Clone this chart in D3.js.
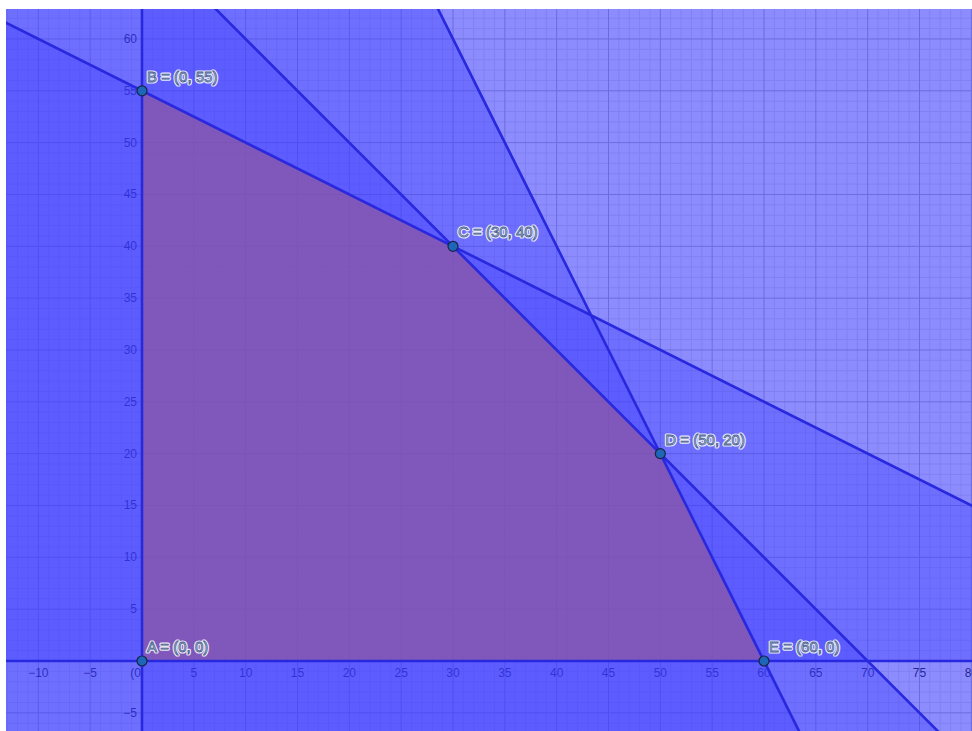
<!DOCTYPE html>
<html>
<head>
<meta charset="utf-8">
<script src="https://cdn.jsdelivr.net/npm/d3@7"></script>
<style>
  body { margin: 0; background: #fff; }
  svg { display: block; }
</style>
</head>
<body>
<svg class="plot"></svg>
<script>
//DATA
const coefX = [1, 1, 2, 1, 0];
const coefY = [2, 1, 1, 0, 1];
const limits = [110, 70, 120, 0, 0];
const senses = ['le', 'le', 'le', 'ge', 'ge'];

const pointNames = ['A', 'B', 'C', 'D', 'E'];
const pointX = [0, 0, 30, 50, 60];
const pointY = [0, 55, 40, 20, 0];

const xTicks = [-10, -5, 5, 10, 15, 20, 25, 30, 35, 40, 45, 50, 55, 60, 65, 70, 75, 80];
const yTicks = [-5, 5, 10, 15, 20, 25, 30, 35, 40, 45, 50, 55, 60];

//INITIALIZING CANVAS
const size = {w: 972, h: 731};
const area = {left: 6, top: 9, right: 972, bottom: 731};

const svg = d3.select('svg.plot')
    .attr('width', size.w)
    .attr('height', size.h);

const x = d3.scaleLinear().domain([0, 60]).range([142, 764]);
const y = d3.scaleLinear().domain([0, 55]).range([661, 90.8]);

svg.append('clipPath').attr('id', 'area')
    .append('rect')
    .attr('x', area.left).attr('y', area.top)
    .attr('width', area.right - area.left)
    .attr('height', area.bottom - area.top);

const g = svg.append('g').attr('clip-path', 'url(#area)');

g.append('rect')
    .attr('x', area.left).attr('y', area.top)
    .attr('width', area.right - area.left)
    .attr('height', area.bottom - area.top)
    .attr('fill', '#fff');

//GRID
const xDom = [x.invert(area.left), x.invert(area.right)];
const yDom = [y.invert(area.bottom), y.invert(area.top)];
const minorX = d3.range(Math.ceil(xDom[0]), xDom[1]);
const minorY = d3.range(Math.ceil(yDom[0]), yDom[1]);

g.selectAll('line.minor-x')
    .data(minorX.filter(d => d % 5 !== 0))
    .enter().append('line')
    .attr('x1', d => x(d)).attr('x2', d => x(d))
    .attr('y1', area.top).attr('y2', area.bottom)
    .attr('stroke', '#e2e2e2');

g.selectAll('line.minor-y')
    .data(minorY.filter(d => d % 5 !== 0))
    .enter().append('line')
    .attr('y1', d => y(d)).attr('y2', d => y(d))
    .attr('x1', area.left).attr('x2', area.right)
    .attr('stroke', '#e2e2e2');

g.selectAll('line.major-x')
    .data(minorX.filter(d => d % 5 === 0))
    .enter().append('line')
    .attr('x1', d => x(d)).attr('x2', d => x(d))
    .attr('y1', area.top).attr('y2', area.bottom)
    .attr('stroke', '#b0b0b0');

g.selectAll('line.major-y')
    .data(minorY.filter(d => d % 5 === 0))
    .enter().append('line')
    .attr('y1', d => y(d)).attr('y2', d => y(d))
    .attr('x1', area.left).attr('x2', area.right)
    .attr('stroke', '#b0b0b0');

//AXIS LABELS (drawn under the shading like in geogebra)
const labelFont = '"Liberation Sans", Arial, sans-serif';
const fmt = d => d < 0 ? '\u2212' + Math.abs(d) : String(d);

g.selectAll('text.xlab')
    .data(xTicks)
    .enter().append('text')
    .attr('x', d => x(d))
    .attr('y', y(0) + 16)
    .attr('text-anchor', 'middle')
    .attr('font-family', labelFont)
    .attr('font-size', 12)
    .attr('fill', '#000')
    .text(fmt);

g.selectAll('text.ylab')
    .data(yTicks)
    .enter().append('text')
    .attr('x', x(0) - 5)
    .attr('y', d => y(d) + 4)
    .attr('text-anchor', 'end')
    .attr('font-family', labelFont)
    .attr('font-size', 12)
    .attr('fill', '#000')
    .text(fmt);

g.append('text')
    .attr('x', x(0) - 1)
    .attr('y', y(0) + 16)
    .attr('text-anchor', 'end')
    .attr('font-family', labelFont)
    .attr('font-size', 12)
    .attr('fill', '#000')
    .text('(0');

//HALF PLANES
const box = [[-30, -30], [100, -30], [100, 90], [-30, 90]];

function clipHalf(poly, a, b, c, sense){
    let s = sense === 'le' ? 1 : -1;
    let inside = p => s * (a * p[0] + b * p[1] - c) <= 0;
    let out = [];
    for(let i = 0; i < poly.length; i++){
        let p = poly[i], q = poly[(i + 1) % poly.length];
        let pin = inside(p), qin = inside(q);
        if(pin) out.push(p);
        if(pin !== qin){
            let fp = a * p[0] + b * p[1] - c;
            let fq = a * q[0] + b * q[1] - c;
            let t = fp / (fp - fq);
            out.push([p[0] + t * (q[0] - p[0]), p[1] + t * (q[1] - p[1])]);
        }
    }
    return out;
}

const line = d3.line().x(d => x(d[0])).y(d => y(d[1]));

const halves = limits.map((c, i) => clipHalf(box, coefX[i], coefY[i], c, senses[i]));

g.selectAll('path.half')
    .data(halves)
    .enter().append('path')
    .attr('class', 'half')
    .attr('d', d => line(d) + 'Z')
    .attr('fill', '#3c3cff')
    .attr('fill-opacity', 0.36);

//FEASIBLE POLYGON
const feasible = pointX.map((d, i) => [d, pointY[i]]);
g.append('path')
    .attr('d', line(feasible) + 'Z')
    .attr('fill', '#b05f78')
    .attr('fill-opacity', 0.5);

//BOUNDARY LINES
const bounds = limits.map((c, i) => {
    let a = coefX[i], b = coefY[i];
    if(b === 0) return [[c / a, -30], [c / a, 90]];
    return [[-30, (c + 30 * a) / b], [100, (c - 100 * a) / b]];
});

g.selectAll('path.bound')
    .data(bounds)
    .enter().append('path')
    .attr('d', d => line(d))
    .attr('stroke', '#2828de')
    .attr('stroke-width', 2.6)
    .attr('fill', 'none');

//POINTS
g.selectAll('circle.pt')
    .data(feasible)
    .enter().append('circle')
    .attr('cx', d => x(d[0]))
    .attr('cy', d => y(d[1]))
    .attr('r', 5)
    .attr('fill', '#1d66b8')
    .attr('stroke', '#182448')
    .attr('stroke-width', 1.2);

const names = feasible.map((d, i) => `${pointNames[i]} = (${d[0]}, ${d[1]})`);

g.selectAll('text.halo')
    .data(feasible)
    .enter().append('text')
    .attr('x', d => x(d[0]) + 5)
    .attr('y', d => y(d[1]) - 9)
    .attr('font-family', labelFont)
    .attr('font-size', 15)
    .attr('fill', 'none')
    .attr('stroke', '#ffffff')
    .attr('stroke-width', 3.2)
    .attr('stroke-linejoin', 'round')
    .attr('opacity', 0.85)
    .text((d, i) => names[i]);

g.selectAll('text.name')
    .data(feasible)
    .enter().append('text')
    .attr('x', d => x(d[0]) + 5)
    .attr('y', d => y(d[1]) - 9)
    .attr('font-family', labelFont)
    .attr('font-size', 15)
    .attr('fill', '#cfdcf0')
    .attr('stroke', '#4c6590')
    .attr('stroke-width', 0.8)
    .text((d, i) => names[i]);
</script>
</body>
</html>
